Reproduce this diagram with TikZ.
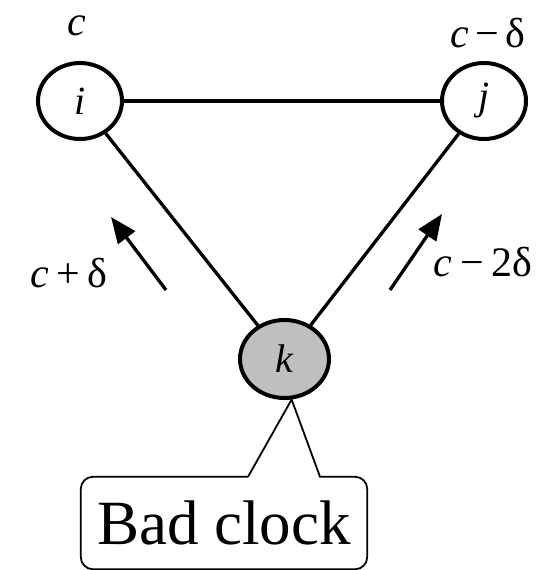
\documentclass[tikz,border=0pt]{standalone}
\usepackage{fontspec}
\setmainfont{Liberation Serif}
\usetikzlibrary{shapes.geometric,arrows.meta,calc}
\begin{document}
\begin{tikzpicture}[x=1pt,y=-1pt]
  \tikzset{clock/.style={ellipse,draw,line width=4pt,minimum width=84pt,minimum height=76pt,inner sep=0pt,fill=white,font=\fontsize{40}{40}\selectfont\itshape},
           tag/.style={anchor=base,inner sep=0pt,font=\fontsize{42}{42}\selectfont},
           drift/.style={line width=3.3pt,-{Triangle[length=26pt,width=21pt]}}}
  \useasboundingbox (0,0) rectangle (544,570);
  \node[clock] (i) at (80,101) {i};
  \node[clock] (j) at (484,101) {j};
  \node[clock,fill=black!25,minimum width=89pt,minimum height=78pt] (k) at (284.5,359) {k};
  \draw[line width=3.3pt] (i) -- (j);
  \draw[line width=3.3pt] (i) -- (k);
  \draw[line width=3.3pt] (j) -- (k);
  % clock readings
  \node[tag] (ci) at (77,35) {\textit{c}};
  \node[tag] (cj) at (488,47) {\textit{c}\kern6pt−\kern6ptδ};
  \node[tag] (cik) at (69,287) {\textit{c}\kern7pt+\kern7ptδ};
  \node[tag] (cjk) at (483,276) {\textit{c}\kern8pt−\kern8pt2δ};
  \coordinate (a1) at (166,290);
  \coordinate (b1) at (111,217);
  \coordinate (a2) at (390,290);
  \coordinate (b2) at (442,214);
  \draw[drift] (a1) -- (b1);
  \draw[drift] (a2) -- (b2);
  % callout
  \node[inner sep=0pt,minimum width=286pt,minimum height=92pt,font=\fontsize{63}{63}\selectfont] (bad) at (224,523) {Bad clock};
  \draw[line width=1.8pt] ($(bad.north)+(24,0)$) -- (k.-80) -- ($(bad.north)+(96,0)$)
    [rounded corners=12pt] -- (bad.north east) -- (bad.south east) -- (bad.south west) -- (bad.north west) -- ($(bad.north)+(24,0)$);
\end{tikzpicture}
\end{document}
